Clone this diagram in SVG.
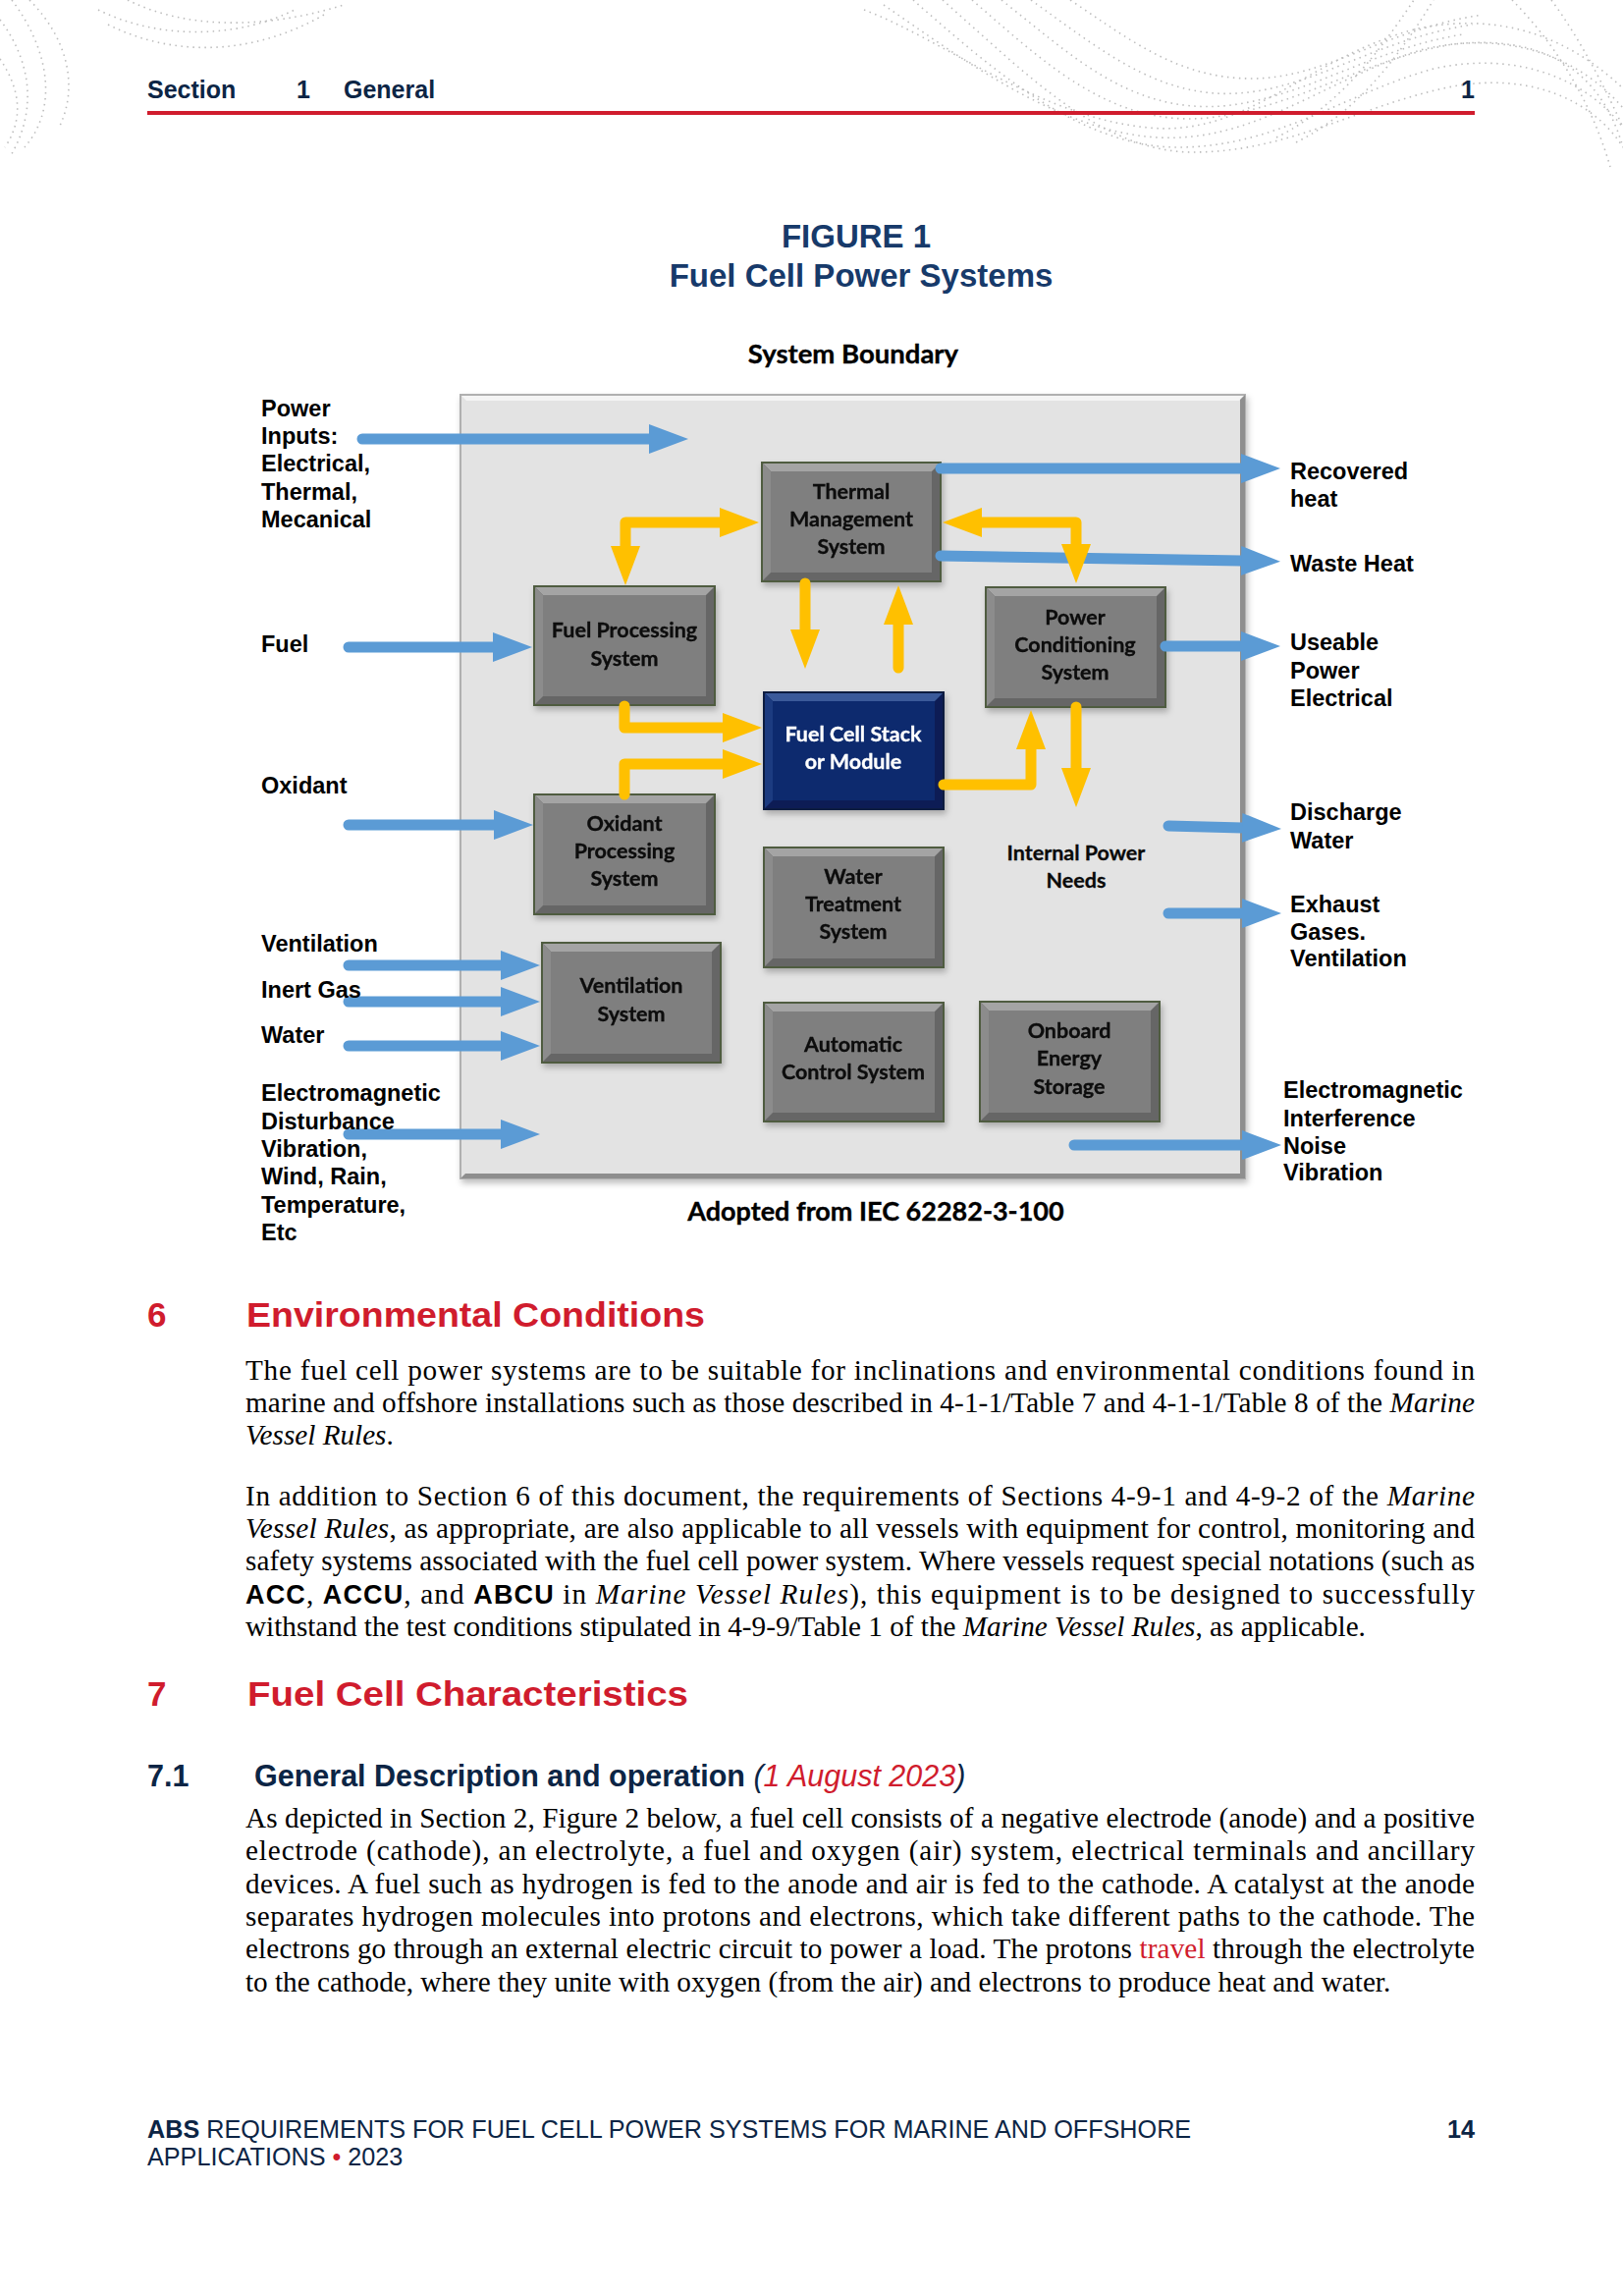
<svg xmlns="http://www.w3.org/2000/svg" width="1653" height="2338" viewBox="0 0 1653 2338">
<style>
.hdr{font-family:"Liberation Sans",Arial,sans-serif;font-weight:700;font-size:25px;fill:#0c2545}
.ttl{font-family:"Liberation Sans",Arial,sans-serif;font-weight:700;font-size:33px;fill:#173a6a;text-anchor:middle}
.cal{font-family:Lato,"Liberation Sans",sans-serif;font-weight:700;fill:#000;stroke:#000;stroke-width:0.35}
.bx{font-family:Lato,"Liberation Sans",sans-serif;font-weight:700;font-size:21.5px;fill:#0a0a0a;stroke:#0a0a0a;stroke-width:0.3;text-anchor:middle}
.bxw{fill:#ffffff;stroke:#ffffff}
.lbl{font-family:"Liberation Sans",Arial,sans-serif;font-weight:700;font-size:23.5px;fill:#000}
.h1{font-family:"Liberation Sans",Arial,sans-serif;font-weight:700;font-size:35px;fill:#d01c2d}
.h2{font-family:"Liberation Sans",Arial,sans-serif;font-weight:700;font-size:30.5px;fill:#0c2545}
.body{font-family:"Liberation Serif","Times New Roman",serif;font-size:29.2px;fill:#000}
.it{font-style:italic}
.ab{font-family:"Liberation Sans",Arial,sans-serif;font-weight:700;font-size:27px}
.red{fill:#d01c2d}
.ftr{font-family:"Liberation Sans",Arial,sans-serif;font-size:25.2px;fill:#0c2545}
.bo{fill:#666;stroke:#505c40;stroke-width:2}
.bt{fill:#a4a4a4}
.bl{fill:#8c8c8c}
.bi{fill:#7f7f7f}
.fo{fill:#0a1f55;stroke:#0a1a40;stroke-width:2}
.ft{fill:#3a5a9a}
.fl{fill:#1d3b80}
.fi{fill:#0c2a6e}
.blue{fill:none;stroke:#5b9bd5;stroke-width:11;stroke-linecap:round;stroke-linejoin:round;marker-end:url(#hb)}
.yel{fill:none;stroke:#ffc000;stroke-width:11;stroke-linecap:round;stroke-linejoin:round;marker-end:url(#hy)}
.yel2{marker-start:url(#hy)}
.dots{fill:none;stroke:#bdbdbd;stroke-width:1.6;stroke-dasharray:1.5 4.5}
</style>
<defs>
<marker id="hb" viewBox="0 0 40 30" refX="1" refY="15" markerWidth="40" markerHeight="30" markerUnits="userSpaceOnUse" orient="auto"><path d="M0,0 L40,15 L0,30 Z" fill="#5b9bd5"/></marker>
<marker id="hy" viewBox="0 0 40 30" refX="1" refY="15" markerWidth="40" markerHeight="30" markerUnits="userSpaceOnUse" orient="auto-start-reverse"><path d="M0,0 L40,15 L0,30 Z" fill="#ffc000"/></marker>
<filter id="sh" x="-10%" y="-10%" width="130%" height="130%"><feDropShadow dx="2" dy="4" stdDeviation="3" flood-color="#000" flood-opacity="0.25"/></filter>
</defs>
<rect x="0" y="0" width="1653" height="2338" fill="#ffffff"/>

<g id="background-dots">
<path class="dots" d="M0,20 C30,60 40,110 10,160"/>
<path class="dots" d="M12,0 C50,50 60,110 25,150"/>
<path class="dots" d="M30,0 C70,40 80,90 60,130"/>
<path class="dots" d="M0,60 C20,90 25,120 5,150"/>
<path class="dots" d="M100,10 C160,40 240,40 300,10"/>
<path class="dots" d="M110,25 C180,60 260,55 330,15"/>
<path class="dots" d="M130,0 C190,30 270,30 350,5"/>
<path class="dots" d="M880,10 C960,40 1060,120 1170,130 C1270,140 1330,60 1440,30 C1530,10 1600,40 1653,90"/>
<path class="dots" d="M900,5 C980,60 1080,135 1180,140 C1280,145 1350,80 1450,50 C1540,30 1610,60 1653,110"/>
<path class="dots" d="M930,0 C1010,70 1100,150 1200,150 C1300,150 1370,95 1460,70 C1550,50 1620,85 1653,130"/>
<path class="dots" d="M960,0 C1040,70 1120,155 1215,155 C1310,155 1380,110 1470,90 C1560,70 1625,105 1653,150"/>
<path class="dots" d="M990,0 C1060,60 1130,130 1230,120 C1320,110 1390,60 1480,45 C1570,35 1630,70 1653,150"/>
<path class="dots" d="M1020,0 C1090,55 1150,115 1245,108 C1330,100 1395,50 1490,35"/>
<path class="dots" d="M1050,0 C1120,50 1180,100 1260,95 C1340,90 1400,40 1500,25"/>
<path class="dots" d="M1090,0 C1150,40 1200,80 1275,80 C1350,80 1410,30 1510,15"/>
<path class="dots" d="M1300,140 C1360,110 1400,60 1440,0"/>
<path class="dots" d="M1320,145 C1380,115 1420,65 1460,0"/>
<path class="dots" d="M1540,0 C1580,40 1620,100 1640,170"/>
<path class="dots" d="M1580,0 C1610,40 1640,100 1653,130"/>
</g>

<g id="header">
<text class="hdr" x="150" y="100">Section</text>
<text class="hdr" x="302" y="100">1</text>
<text class="hdr" x="350" y="100">General</text>
<text class="hdr" x="1502" y="100" text-anchor="end">1</text>
<rect x="150" y="113" width="1352" height="4" fill="#d01c2d"/>
</g>

<g id="title">
<text class="ttl" x="872" y="252">FIGURE 1</text>
<text class="ttl" x="877" y="292">Fuel Cell Power Systems</text>
</g>

<g id="system-boundary">
<text class="cal" x="869" y="370" font-size="27.5" text-anchor="middle">System Boundary</text>
<rect x="469" y="402" width="799" height="798" fill="#e3e3e3" stroke="#b0b0b0" stroke-width="2" filter="url(#sh)"/>
<path d="M470,403 H1267 L1262,408 H475 Z" fill="#f4f4f4"/>
<path d="M1268,402 V1200 H1263 V407 Z" fill="#8e8e8e"/>
<path d="M469,1200 H1268 V1195 H474 Z" fill="#8e8e8e"/>
<text class="cal" x="892" y="1243" font-size="27" text-anchor="middle">Adopted from IEC 62282-3-100</text>
</g>

<g id="nodes">
<g id="thermal-management" filter="url(#sh)">
<rect class="bo" x="776" y="471" width="182" height="121"/>
<path class="bt" d="M777,472 H957 L949,480 H785 Z"/>
<path class="bl" d="M777,472 L785,480 V583 L777,591 Z"/>
<rect class="bi" x="785" y="480" width="164" height="103"/>
<text class="bx" x="867" y="508">Thermal</text>
<text class="bx" x="867" y="536">Management</text>
<text class="bx" x="867" y="564">System</text>
</g>
<g id="fuel-processing" filter="url(#sh)">
<rect class="bo" x="544" y="597" width="184" height="121"/>
<path class="bt" d="M545,598 H727 L719,606 H553 Z"/>
<path class="bl" d="M545,598 L553,606 V709 L545,717 Z"/>
<rect class="bi" x="553" y="606" width="166" height="103"/>
<text class="bx" x="636" y="649">Fuel Processing</text>
<text class="bx" x="636" y="678">System</text>
</g>
<g id="power-conditioning" filter="url(#sh)">
<rect class="bo" x="1004" y="598" width="183" height="122"/>
<path class="bt" d="M1005,599 H1186 L1178,607 H1013 Z"/>
<path class="bl" d="M1005,599 L1013,607 V711 L1005,719 Z"/>
<rect class="bi" x="1013" y="607" width="165" height="104"/>
<text class="bx" x="1095" y="636">Power</text>
<text class="bx" x="1095" y="664">Conditioning</text>
<text class="bx" x="1095" y="692">System</text>
</g>
<g id="fuel-cell-stack" filter="url(#sh)">
<rect class="fo" x="778" y="705" width="183" height="119"/>
<path class="ft" d="M779,706 H960 L952,714 H787 Z"/>
<path class="fl" d="M779,706 L787,714 V815 L779,823 Z"/>
<rect class="fi" x="787" y="714" width="165" height="101"/>
<text class="bx bxw" x="869" y="755">Fuel Cell Stack</text>
<text class="bx bxw" x="869" y="783">or Module</text>
</g>
<g id="oxidant-processing" filter="url(#sh)">
<rect class="bo" x="544" y="809" width="184" height="122"/>
<path class="bt" d="M545,810 H727 L719,818 H553 Z"/>
<path class="bl" d="M545,810 L553,818 V922 L545,930 Z"/>
<rect class="bi" x="553" y="818" width="166" height="104"/>
<text class="bx" x="636" y="846">Oxidant</text>
<text class="bx" x="636" y="874">Processing</text>
<text class="bx" x="636" y="902">System</text>
</g>
<g id="water-treatment" filter="url(#sh)">
<rect class="bo" x="778" y="863" width="183" height="122"/>
<path class="bt" d="M779,864 H960 L952,872 H787 Z"/>
<path class="bl" d="M779,864 L787,872 V976 L779,984 Z"/>
<rect class="bi" x="787" y="872" width="165" height="104"/>
<text class="bx" x="869" y="900">Water</text>
<text class="bx" x="869" y="928">Treatment</text>
<text class="bx" x="869" y="956">System</text>
</g>
<g id="ventilation-system" filter="url(#sh)">
<rect class="bo" x="552" y="960" width="182" height="122"/>
<path class="bt" d="M553,961 H733 L725,969 H561 Z"/>
<path class="bl" d="M553,961 L561,969 V1073 L553,1081 Z"/>
<rect class="bi" x="561" y="969" width="164" height="104"/>
<text class="bx" x="643" y="1011">Ventilation</text>
<text class="bx" x="643" y="1040">System</text>
</g>
<g id="automatic-control" filter="url(#sh)">
<rect class="bo" x="778" y="1021" width="183" height="121"/>
<path class="bt" d="M779,1022 H960 L952,1030 H787 Z"/>
<path class="bl" d="M779,1022 L787,1030 V1133 L779,1141 Z"/>
<rect class="bi" x="787" y="1030" width="165" height="103"/>
<text class="bx" x="869" y="1071">Automatic</text>
<text class="bx" x="869" y="1099">Control System</text>
</g>
<g id="onboard-energy-storage" filter="url(#sh)">
<rect class="bo" x="998" y="1020" width="183" height="122"/>
<path class="bt" d="M999,1021 H1180 L1172,1029 H1007 Z"/>
<path class="bl" d="M999,1021 L1007,1029 V1133 L999,1141 Z"/>
<rect class="bi" x="1007" y="1029" width="165" height="104"/>
<text class="bx" x="1089" y="1057">Onboard</text>
<text class="bx" x="1089" y="1085">Energy</text>
<text class="bx" x="1089" y="1114">Storage</text>
</g>
<g id="internal-power-needs">
<text class="bx" x="1096" y="876">Internal Power</text>
<text class="bx" x="1096" y="904">Needs</text>
</g>
</g>

<g id="connectors">
<path class="blue" d="M369,447 H662"/>
<path class="blue" d="M355,659 H503"/>
<path class="blue" d="M355,840 H504"/>
<path class="blue" d="M355,983 H511"/>
<path class="blue" d="M355,1020 H511"/>
<path class="blue" d="M355,1065 H511"/>
<path class="blue" d="M355,1155 H511"/>
<path class="blue" d="M958,477 H1265"/>
<path class="blue" d="M958,566 L1265,571"/>
<path class="blue" d="M1187,658 H1265"/>
<path class="blue" d="M1190,841 L1266,843"/>
<path class="blue" d="M1190,930 H1266"/>
<path class="blue" d="M1094,1166 H1266"/>
<path class="yel yel2" d="M637,557 V532 H734"/>
<path class="yel yel2" d="M1096,555 V532 H999"/>
<path class="yel" d="M820,594 V642"/>
<path class="yel" d="M915,680 V635"/>
<path class="yel" d="M636,719 V741 H737"/>
<path class="yel" d="M636,809 V778 H737"/>
<path class="yel" d="M961,799 H1050 V762"/>
<path class="yel" d="M1096,720 V783"/>
</g>

<g id="io-labels">
<text class="lbl" x="266" y="424">Power</text>
<text class="lbl" x="266" y="452">Inputs:</text>
<text class="lbl" x="266" y="480">Electrical,</text>
<text class="lbl" x="266" y="509">Thermal,</text>
<text class="lbl" x="266" y="537">Mecanical</text>
<text class="lbl" x="266" y="664">Fuel</text>
<text class="lbl" x="266" y="808">Oxidant</text>
<text class="lbl" x="266" y="969">Ventilation</text>
<text class="lbl" x="266" y="1016">Inert Gas</text>
<text class="lbl" x="266" y="1062">Water</text>
<text class="lbl" x="266" y="1121">Electromagnetic</text>
<text class="lbl" x="266" y="1150">Disturbance</text>
<text class="lbl" x="266" y="1178">Vibration,</text>
<text class="lbl" x="266" y="1206">Wind, Rain,</text>
<text class="lbl" x="266" y="1235">Temperature,</text>
<text class="lbl" x="266" y="1263">Etc</text>
<text class="lbl" x="1314" y="488">Recovered</text>
<text class="lbl" x="1314" y="516">heat</text>
<text class="lbl" x="1314" y="582">Waste Heat</text>
<text class="lbl" x="1314" y="662">Useable</text>
<text class="lbl" x="1314" y="691">Power</text>
<text class="lbl" x="1314" y="719">Electrical</text>
<text class="lbl" x="1314" y="835">Discharge</text>
<text class="lbl" x="1314" y="864">Water</text>
<text class="lbl" x="1314" y="929">Exhaust</text>
<text class="lbl" x="1314" y="957">Gases.</text>
<text class="lbl" x="1314" y="984">Ventilation</text>
<text class="lbl" x="1307" y="1118">Electromagnetic</text>
<text class="lbl" x="1307" y="1147">Interference</text>
<text class="lbl" x="1307" y="1175">Noise</text>
<text class="lbl" x="1307" y="1202">Vibration</text>
</g>

<g id="section-6">
<text class="h1" x="150" y="1351">6</text>
<text class="h1" x="251" y="1351" textLength="467" lengthAdjust="spacingAndGlyphs">Environmental Conditions</text>
<text class="body" x="250" y="1405" textLength="1252" lengthAdjust="spacing">The fuel cell power systems are to be suitable for inclinations and environmental conditions found in</text>
<text class="body" x="250" y="1438" textLength="1252" lengthAdjust="spacing">marine and offshore installations such as those described in 4-1-1/Table 7 and 4-1-1/Table 8 of the <tspan class="it">Marine</tspan></text>
<text class="body" x="250" y="1471"><tspan class="it">Vessel Rules</tspan>.</text>
<text class="body" x="250" y="1533" textLength="1252" lengthAdjust="spacing">In addition to Section 6 of this document, the requirements of Sections 4-9-1 and 4-9-2 of the <tspan class="it">Marine</tspan></text>
<text class="body" x="250" y="1566" textLength="1252" lengthAdjust="spacing"><tspan class="it">Vessel Rules</tspan>, as appropriate, are also applicable to all vessels with equipment for control, monitoring and</text>
<text class="body" x="250" y="1599" textLength="1252" lengthAdjust="spacing">safety systems associated with the fuel cell power system. Where vessels request special notations (such as</text>
<text class="body" x="250" y="1633" textLength="1252" lengthAdjust="spacing"><tspan class="ab">ACC</tspan>, <tspan class="ab">ACCU</tspan>, and <tspan class="ab">ABCU</tspan> in <tspan class="it">Marine Vessel Rules</tspan>), this equipment is to be designed to successfully</text>
<text class="body" x="250" y="1666">withstand the test conditions stipulated in 4-9-9/Table 1 of the <tspan class="it">Marine Vessel Rules</tspan>, as applicable.</text>
</g>

<g id="section-7">
<text class="h1" x="150" y="1737">7</text>
<text class="h1" x="252" y="1737" textLength="449" lengthAdjust="spacingAndGlyphs">Fuel Cell Characteristics</text>
<text class="h2" x="150" y="1819">7.1</text>
<text class="h2" x="259" y="1819">General Description and operation <tspan font-weight="400" font-style="italic">(<tspan class="red">1 August 2023</tspan>)</tspan></text>
<text class="body" x="250" y="1861" textLength="1252" lengthAdjust="spacing">As depicted in Section 2, Figure 2 below, a fuel cell consists of a negative electrode (anode) and a positive</text>
<text class="body" x="250" y="1894" textLength="1252" lengthAdjust="spacing">electrode (cathode), an electrolyte, a fuel and oxygen (air) system, electrical terminals and ancillary</text>
<text class="body" x="250" y="1928" textLength="1252" lengthAdjust="spacing">devices. A fuel such as hydrogen is fed to the anode and air is fed to the cathode. A catalyst at the anode</text>
<text class="body" x="250" y="1961" textLength="1252" lengthAdjust="spacing">separates hydrogen molecules into protons and electrons, which take different paths to the cathode. The</text>
<text class="body" x="250" y="1994" textLength="1252" lengthAdjust="spacing">electrons go through an external electric circuit to power a load. The protons <tspan class="red">travel</tspan> through the electrolyte</text>
<text class="body" x="250" y="2028">to the cathode, where they unite with oxygen (from the air) and electrons to produce heat and water.</text>
</g>

<g id="footer">
<text class="ftr" x="150" y="2177"><tspan font-weight="700">ABS</tspan> REQUIREMENTS FOR FUEL CELL POWER SYSTEMS FOR MARINE AND OFFSHORE</text>
<text class="ftr" x="150" y="2205">APPLICATIONS <tspan class="red">•</tspan> 2023</text>
<text class="ftr" x="1502" y="2177" font-weight="700" text-anchor="end">14</text>
</g>
</svg>
